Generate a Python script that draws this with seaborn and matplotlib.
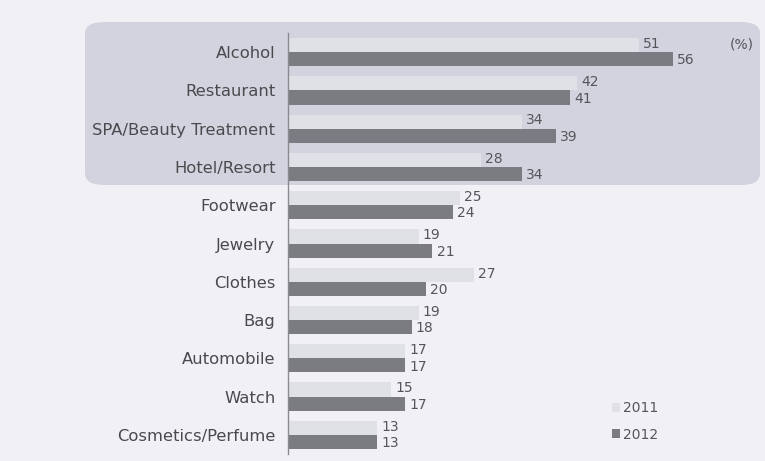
import matplotlib
matplotlib.use("Agg")
import matplotlib.pyplot as plt
from matplotlib.patches import FancyBboxPatch
import seaborn as sns
import pandas as pd

categories = ["Alcohol", "Restaurant", "SPA/Beauty Treatment", "Hotel/Resort",
              "Footwear", "Jewelry", "Clothes", "Bag", "Automobile", "Watch",
              "Cosmetics/Perfume"]
values_2011 = [51, 42, 34, 28, 25, 19, 27, 19, 17, 15, 13]
values_2012 = [56, 41, 39, 34, 24, 21, 20, 18, 17, 17, 13]
years = ["2011", "2012"]

df = pd.DataFrame({
    "category": categories * 2,
    "value": values_2011 + values_2012,
    "year": [years[0]] * len(categories) + [years[1]] * len(categories),
})

sns.set_style("white")
plt.rcParams['font.family'] = ['DejaVu Sans']

W, H = 765, 461
fig = plt.figure(figsize=(W / 100, H / 100), dpi=100)
bg = "#f1f1f5"
fig.patch.set_facecolor(bg)

# highlight box behind top four categories
box = FancyBboxPatch((85 / W, 1 - 185 / H), (760 - 85) / W, (185 - 22) / H,
                     boxstyle="round,pad=0,rounding_size=0.025",
                     transform=fig.transFigure, facecolor="#d3d3df",
                     edgecolor="none", zorder=0)
fig.patches.append(box)

ax = fig.add_axes([288 / W, 1 - 454 / H, 412.5 / W, 421 / H])
ax.set_zorder(2)
ax.patch.set_alpha(0)

palette = {"2011": "#e0e0e7", "2012": "#7b7b82"}
sns.barplot(data=df, y="category", x="value", hue="year", orient="h",
            palette=palette, width=0.74, ax=ax, legend=True,
            saturation=1, linewidth=0)

ax.set_xlim(0, 60)
ax.set_ylim(len(categories) - 0.5, -0.5)
ax.set_xlabel("")
ax.set_ylabel("")
ax.set_xticks([])
for s in ["top", "right", "bottom"]:
    ax.spines[s].set_visible(False)
ax.spines["left"].set_color("#8a8a90")
ax.spines["left"].set_linewidth(1.0)

ax.tick_params(axis="y", which="major", length=0, pad=9, labelsize=11.8,
               labelcolor="#4a4a4e")
ax.set_yticks([i - 0.5 for i in range(len(categories) + 1)], minor=True)
ax.tick_params(axis="y", which="minor", length=5, width=1, color="#8a8a90",
               direction="out")

for cont, dy in zip(ax.containers, [-0.03, 0.03]):
    for bar in cont:
        v = bar.get_width()
        y = bar.get_y() + bar.get_height() / 2 + dy
        ax.text(v + 0.6, y, f"{int(v)}", va="center", ha="left",
                fontsize=10, color="#55555a")

ax.text(1.07, 1 - 0.028, "(%)", transform=ax.transAxes, fontsize=10,
        color="#55555a", ha="left", va="center")

leg = ax.legend(loc="lower left", bbox_to_anchor=(0.755, 0.0), frameon=False,
                fontsize=10, handlelength=0.6, handleheight=0.6,
                handletextpad=0.2, labelspacing=0.9)
for t in leg.get_texts():
    t.set_color("#55555a")
for h in leg.legend_handles:
    h.set_linewidth(0)

fig.savefig("out.png", dpi=100, facecolor=bg)
